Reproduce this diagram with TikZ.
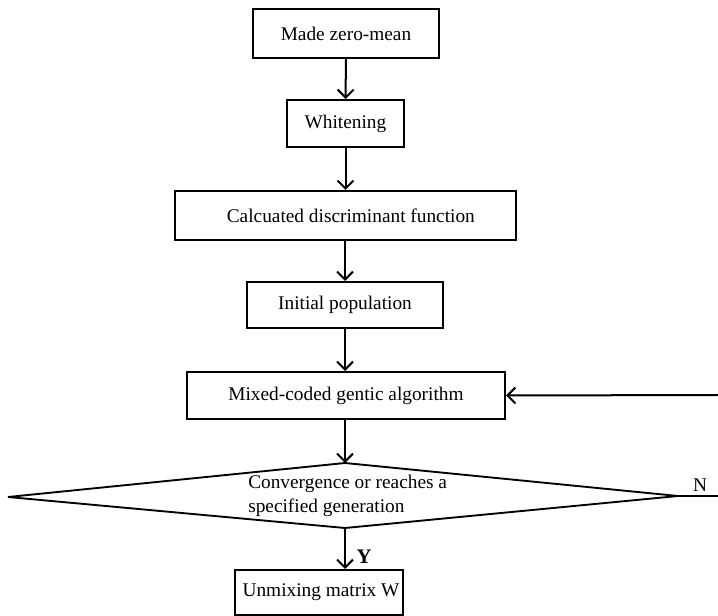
\documentclass[tikz,border=0pt]{standalone}
\usepackage{fontspec}
\setmainfont{Liberation Serif}
\usetikzlibrary{arrows.meta}
\begin{document}
\begin{tikzpicture}[x=0.75pt,y=-0.75pt,
  font=\fontsize{14.5}{17.5}\selectfont,
  stepbox/.style={draw,line width=1.5pt,rectangle,inner sep=0pt},
  flow/.style={line width=1.5pt,-{Straight Barb[length=6pt,width=12pt,line width=1.5pt]}},
  plainline/.style={line width=1.4pt}]
\useasboundingbox (0,0) rectangle (718,616);
\node[stepbox,minimum width=186*0.75pt,minimum height=49*0.75pt] (b1) at (346,33.5) {Made zero-mean};
\node[stepbox,minimum width=117*0.75pt,minimum height=47*0.75pt] (b2) at (345.5,123.5) {Whitening};
\node[stepbox,minimum width=341*0.75pt,minimum height=49*0.75pt] (b3) at (345.5,215.5) {\hspace{8pt}Calcuated discriminant function};
\node[stepbox,minimum width=196*0.75pt,minimum height=46*0.75pt] (b4) at (345,305) {Initial population};
\node[stepbox,minimum width=318*0.75pt,minimum height=47*0.75pt] (b5) at (346,395.5) {Mixed-coded gentic algorithm\hspace{4pt}};
\coordinate (dtop) at (345,463);
\coordinate (dright) at (678,496);
\coordinate (dbot) at (345,528);
\coordinate (dleft) at (8,497);
\draw[line width=1.4pt,line join=miter] (dtop) -- (dright) -- (dbot) -- (dleft) -- cycle;
\node[anchor=west,align=left,inner sep=0pt] (dtext) at (248,496) {Convergence or reaches a\\specified generation};
\node[stepbox,minimum width=168*0.75pt,minimum height=45*0.75pt] (b6) at (319,592.5) {\hspace{3pt}Unmixing matrix W};
\coordinate (nend) at (718,496);
\coordinate (fbstart) at (718,395);
\node[inner sep=0pt] (nlab) at (700,485) {N};
\node[inner sep=0pt,font=\fontsize{15.5}{17.5}\selectfont\bfseries] (ylab) at (364,557) {Y};
\draw[flow] (b1) -- (b2);
\draw[flow] (b2) -- (b3.north -| b2);
\draw[flow] (b3.south -| b4) -- (b4);
\draw[flow] (b4) -- (b5.north -| b4);
\draw[flow] (b5.south -| dtop) -- (dtop);
\draw[flow] (dbot) -- (dbot |- b6.north);
\draw[plainline] (dright) -- (nend);
\draw[flow] (fbstart) -- (b5.east);
\end{tikzpicture}
\end{document}
